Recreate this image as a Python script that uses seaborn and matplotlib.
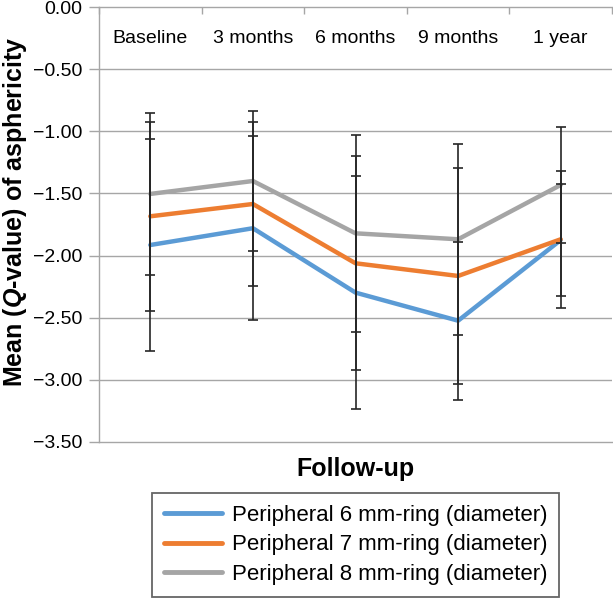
import numpy as np
import pandas as pd
import matplotlib
matplotlib.use("Agg")
import matplotlib.pyplot as plt
import seaborn as sns
from matplotlib.ticker import FuncFormatter

# Données
visits = ["Baseline", "3 months", "6 months", "9 months", "1 year"]
series_names = [
    "Peripheral 6 mm-ring (diameter)",
    "Peripheral 7 mm-ring (diameter)",
    "Peripheral 8 mm-ring (diameter)",
]
ring6_mean = [-1.915, -1.78, -2.298, -2.524, -1.875]
ring7_mean = [-1.684, -1.585, -2.062, -2.164, -1.869]
ring8_mean = [-1.504, -1.40, -1.821, -1.869, -1.432]
ring6_sd = [0.85, 0.74, 0.94, 0.635, 0.45]
ring7_sd = [0.76, 0.66, 0.86, 0.87, 0.55]
ring8_sd = [0.65, 0.56, 0.79, 0.77, 0.47]
y_ticks = [0.0, -0.5, -1.0, -1.5, -2.0, -2.5, -3.0, -3.5]

colors = ["#5b9bd5", "#ed7d31", "#a5a5a5"]
grid_col = "#a6a6a6"

means = [ring6_mean, ring7_mean, ring8_mean]
sds = [ring6_sd, ring7_sd, ring8_sd]

df = pd.DataFrame({
    "visit": visits * 3,
    "ring": np.repeat(series_names, len(visits)),
    "q": np.concatenate(means),
    "sd": np.concatenate(sds),
})

sns.set_style("white")
plt.rcParams["font.family"] = ["Liberation Sans", "DejaVu Sans"]
plt.rcParams["mathtext.fontset"] = "custom"
plt.rcParams["mathtext.rm"] = "Liberation Sans"
plt.rcParams["mathtext.bfit"] = "Liberation Sans:italic:bold"
plt.rcParams["text.color"] = "black"
plt.rcParams["axes.labelcolor"] = "black"

fig = plt.figure(figsize=(6.13, 5.98), dpi=100)
ax = fig.add_axes([99 / 613, 1 - 442 / 598, 513 / 613, 435 / 598])

# grille horizontale
for v in y_ticks[1:-1]:
    ax.axhline(v, color=grid_col, lw=1.0, zorder=0)

sns.lineplot(data=df, x="visit", y="q", hue="ring", palette=colors,
             linewidth=3.2, ax=ax, legend=True, zorder=2, sort=False)

# barres d'erreur
ax.errorbar(df["visit"], df["q"], yerr=df["sd"], fmt="none",
            ecolor="#262626", elinewidth=1.2, capsize=3.6, capthick=1.2, zorder=3)

ax.set_xlim(-0.5, 4.5)
ax.set_ylim(-3.5, 0.0)
ax.set_yticks(y_ticks)
ax.yaxis.set_major_formatter(FuncFormatter(lambda v, p: f"{v:.2f}".replace("-", "\u2212") if v < -1e-9 else "0.00"))

# axe des catégories en haut (à 0), libellés à l'intérieur
ax.xaxis.set_ticks_position("top")
ax.set_xticks(range(len(visits)))
ax.set_xticklabels(visits)
ax.tick_params(axis="x", which="major", length=0, top=True, bottom=False,
               labeltop=True, labelbottom=False, pad=-29, labelsize=14,
               labelcolor="black")
ax.set_xticks(np.arange(-0.5, len(visits)), minor=True)
ax.tick_params(axis="x", which="minor", direction="in", length=5, top=True,
               bottom=False, color=grid_col, width=1.0)
ax.tick_params(axis="y", direction="out", length=7, width=1.0, color=grid_col,
               labelsize=14, pad=5, left=True, labelcolor="black")

for side in ["top", "left", "bottom"]:
    ax.spines[side].set_visible(True)
    ax.spines[side].set_color(grid_col)
    ax.spines[side].set_linewidth(1.0)
ax.spines["right"].set_visible(False)

ax.set_xlabel("Follow-up", fontsize=18, fontweight="bold")
ax.xaxis.set_label_position("bottom")
ax.xaxis.labelpad = 11
ax.set_ylabel(r"Mean ($\mathbfit{Q}$-value) of asphericity", fontsize=18, fontweight="bold")
ax.yaxis.set_label_coords(-0.136, 0.53)

handles, labels = ax.get_legend_handles_labels()
ax.get_legend().remove()
leg = fig.legend(handles, labels, loc="upper center",
                 bbox_to_anchor=(355.5 / 613, 1 - 493 / 598),
                 fontsize=16, frameon=True, fancybox=False, edgecolor="#404040",
                 handlelength=2.6, handletextpad=0.45, labelspacing=0.37,
                 borderpad=0.55, borderaxespad=0)
leg.get_frame().set_linewidth(1.3)
for h in leg.get_lines():
    h.set_linewidth(3.5)

fig.savefig("out.png", dpi=100)
